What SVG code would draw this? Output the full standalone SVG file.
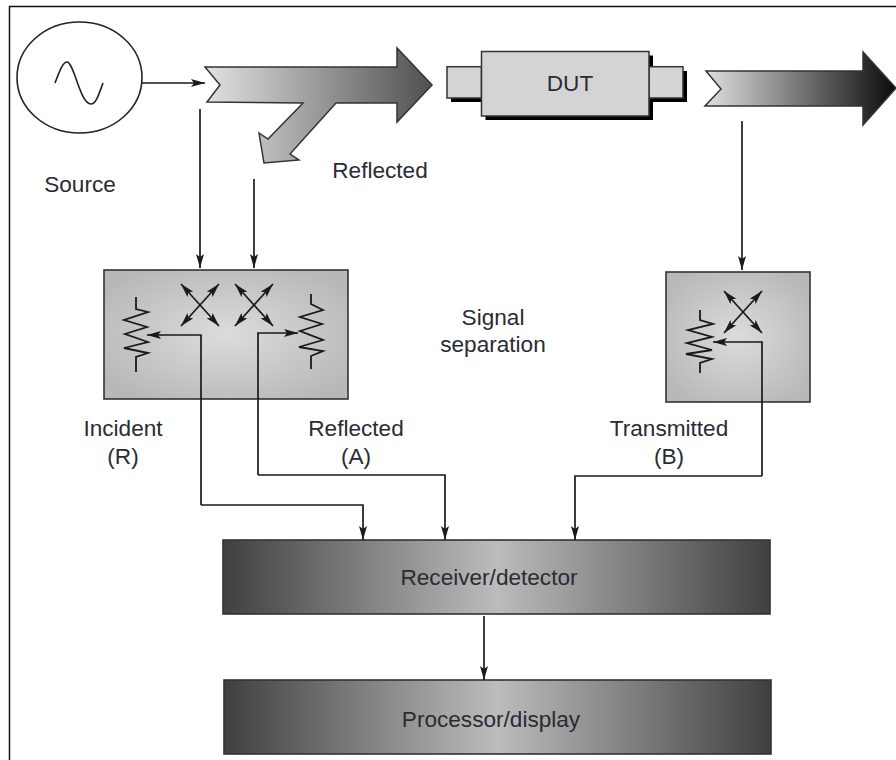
<svg xmlns="http://www.w3.org/2000/svg" width="896" height="760" viewBox="0 0 896 760">
<style>
text{font-family:"Liberation Sans",Arial,sans-serif;font-size:22.6px;fill:#2b2b33;text-anchor:middle}
.ln{fill:none;stroke:#1a1a1a;stroke-width:1.7}
.ah{marker-end:url(#ah)}
.x{fill:none;stroke:#1a1a1a;stroke-width:1.7;marker-start:url(#ahx);marker-end:url(#ahx)}
.r{fill:none;stroke:#1a1a1a;stroke-width:1.8;stroke-linejoin:miter}
.ar{stroke:#333;stroke-width:1.5}
.sh{fill:#000}
.d{fill:#d4d4d4;stroke:#333;stroke-width:1.5}
.bx{stroke:#333;stroke-width:1.6}
</style>
<defs>
<marker id="ah" viewBox="0 0 14 8" refX="14" refY="4" markerWidth="14" markerHeight="8" markerUnits="userSpaceOnUse" orient="auto"><path d="M0 0L14 4L0 8L3 4Z" fill="#1a1a1a"/></marker>
<marker id="ahx" viewBox="0 0 14 8" refX="14" refY="4" markerWidth="14" markerHeight="8" markerUnits="userSpaceOnUse" orient="auto-start-reverse"><path d="M0 0L14 4L0 8L3 4Z" fill="#1a1a1a"/></marker>
<linearGradient id="g1" gradientUnits="userSpaceOnUse" x1="205" y1="0" x2="432" y2="0"><stop offset="0" stop-color="#e2e2e2"/><stop offset="1" stop-color="#505050"/></linearGradient>
<linearGradient id="g2" gradientUnits="userSpaceOnUse" x1="705" y1="0" x2="896" y2="0"><stop offset="0" stop-color="#e0e0e0"/><stop offset="1" stop-color="#0a0a0a"/></linearGradient>
<linearGradient id="g3" x1="0" y1="0" x2="1" y2="0"><stop offset="0" stop-color="#404040"/><stop offset=".5" stop-color="#bcbcbc"/><stop offset="1" stop-color="#404040"/></linearGradient>
<radialGradient id="g4" cx=".5" cy=".5" r=".6"><stop offset="0" stop-color="#dcdcdc"/><stop offset="1" stop-color="#b8b8b8"/></radialGradient>
</defs>
<rect width="896" height="760" fill="#fff"/>
<path d="M9.500 760V6.500H896" fill="none" stroke="#111" stroke-width="1.500"/>
<g id="source"><ellipse cx="79.500" cy="77.500" rx="62.500" ry="55.500" fill="#fff" stroke="#222" stroke-width="1.600"/>
<path d="M55 83C60 70 63 62 67 62C74 62 80 104 91 104C96 104 99 94 103 83" fill="none" stroke="#222" stroke-width="1.600"/>
<text x="80" y="192">Source</text></g>
<g id="coupler"><path class="ar" fill="url(#g1)" d="M205 67H397V48L432 85L397 122V103H336L290 154L299 160L264 163L259 133L268 139L303 103L207 102L220 85Z"/>
<text x="380" y="178">Reflected</text></g>
<g id="dut">
<rect class="sh" x="451" y="71" width="236" height="31"/><rect class="sh" x="485.500" y="55.500" width="167.500" height="64.500"/>
<rect class="d" x="447" y="66.700" width="34.500" height="31.300"/><rect class="d" x="649" y="66.700" width="34" height="31.300"/>
<rect class="d" x="481.500" y="51.500" width="167.500" height="64.500"/>
<text x="570" y="91">DUT</text></g>
<g id="transmitted-arrow"><path class="ar" fill="url(#g2)" d="M706 71H863V52L896 88L863 125V106H705L721 89Z"/></g>
<g id="separation-left"><rect class="bx" x="104" y="270" width="244" height="129" fill="url(#g4)"/>
<path class="x" d="M181 284L219 326"/><path class="x" d="M219 284L181 326"/>
<path class="x" d="M235 284L273 326"/><path class="x" d="M273 284L235 326"/>
<path class="r" d="M136 297V309L148 312L124 320L147 327L125 334L148 342L124 348L148 353L136 357V372"/>
<path class="r" d="M311 294V304L323 310L300 317L322 324L300 331L323 340L299 347L323 351L311 356V369"/></g>
<g id="separation-right"><rect class="bx" x="666" y="272" width="144" height="130" fill="url(#g4)"/>
<path class="x" d="M724 291L762 333"/><path class="x" d="M762 291L724 333"/>
<path class="r" d="M700 310V320L713 324L688 330L712 337L687 343L712 350L686 354L712 359L700 363V373"/></g>
<g id="labels"><text x="123" y="436">Incident</text><text x="123" y="464">(R)</text>
<text x="356" y="436">Reflected</text><text x="356" y="464">(A)</text>
<text x="669" y="436">Transmitted</text><text x="669" y="464">(B)</text>
<text x="493" y="325">Signal</text><text x="493" y="352">separation</text></g>
<g id="receiver"><rect class="bx" x="223" y="540" width="547" height="74" fill="url(#g3)"/><text x="489" y="585">Receiver/detector</text></g>
<g id="processor"><rect class="bx" x="224" y="680" width="547" height="74" fill="url(#g3)"/><text x="491" y="727">Processor/display</text></g>
<g id="connectors">
<path class="ln ah" d="M142 83H205"/>
<path class="ln ah" d="M200 109V268"/>
<path class="ln ah" d="M254 179V268"/>
<path class="ln ah" d="M742 121V270"/>
<path class="ln ah" d="M201 505V335H147"/>
<path class="ln ah" d="M201 505H363V540"/>
<path class="ln ah" d="M258 475V333H298"/>
<path class="ln ah" d="M258 475H445V540"/>
<path class="ln ah" d="M762 476V342H713"/>
<path class="ln ah" d="M762 476H575V540"/>
<path class="ln ah" d="M484 616V680"/>
</g>
</svg>
